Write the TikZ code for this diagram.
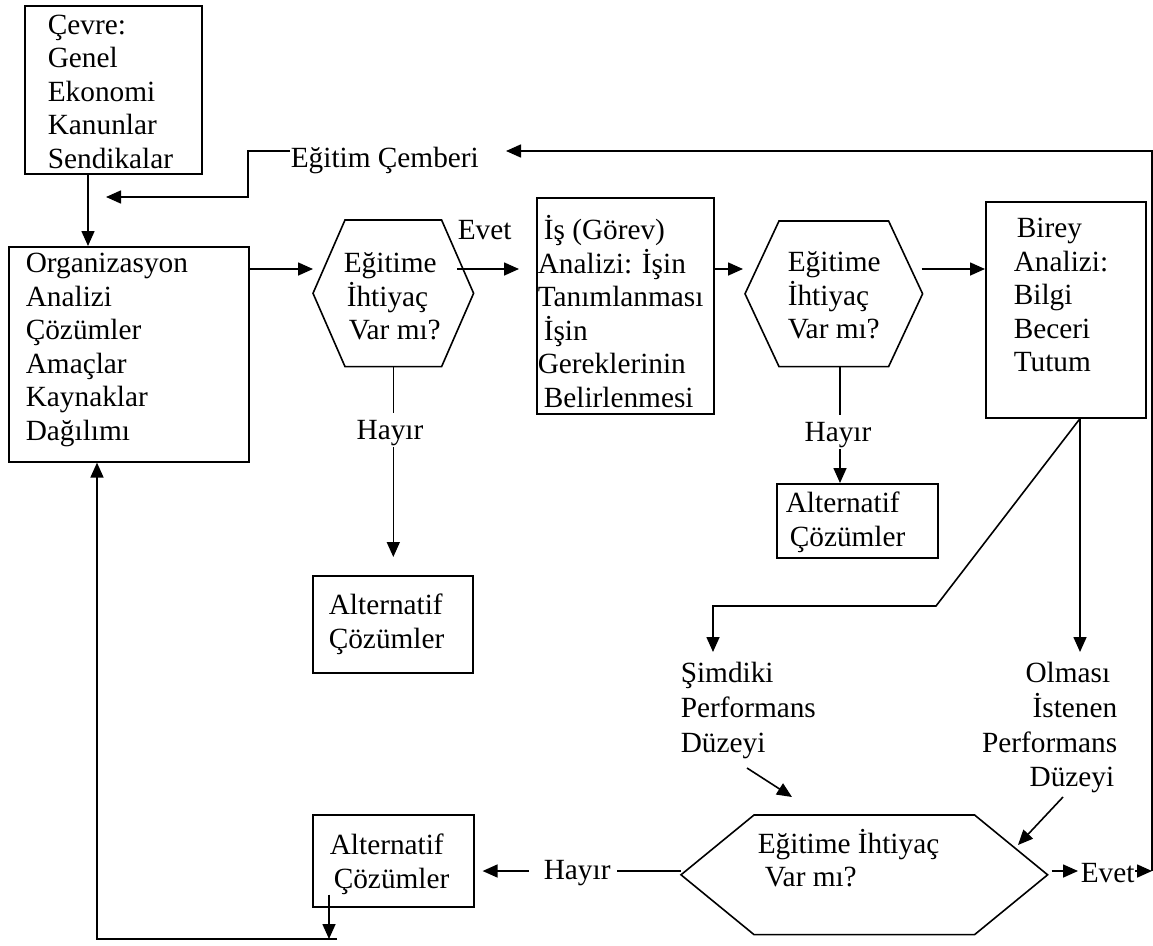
\documentclass[tikz,border=0pt]{standalone}
\usepackage{fontspec}
\setmainfont{Liberation Serif}
\usetikzlibrary{arrows.meta,calc}
% strut fixing the top of every text block 26pt above its first baseline
\newcommand\tstrut{\rule{0pt}{26pt}}
% hexagon drawn through the corners of its bounding node; #2 = horizontal inset of the top/bottom edges
\newcommand\hexoutline[2]{\draw (#1.west) -- ([xshift=#2]#1.north west) -- ([xshift=-#2]#1.north east) -- (#1.east) -- ([xshift=-#2]#1.south east) -- ([xshift=#2]#1.south west) -- cycle;}
\begin{document}
\begin{tikzpicture}[x=1pt, y=-1pt, line width=1.6pt,
  box/.style={draw, rectangle, inner sep=0pt, anchor=north west},
  hexbox/.style={rectangle, inner sep=0pt, anchor=north west},
  txt/.style={inner sep=0pt, anchor=north west, align=left, font={\fontsize{29.3}{33.5}\selectfont}},
  txtwide/.style={txt, font={\fontsize{29.3}{34.7}\selectfont}},
  arr/.style={-{Triangle[length=15pt,width=13pt]}}]
\fill[white] (0,0) rectangle (1153,945);
\useasboundingbox (0,0) rectangle (1153,945);

% ---------- boxes ----------
\node[box, minimum width=177, minimum height=168] (cevre) at (24,5) {};
\node[box, minimum width=240, minimum height=215] (org) at (8,246) {};
\node[box, minimum width=177, minimum height=216] (is) at (536,197) {};
\node[box, minimum width=160, minimum height=216] (birey) at (985,201) {};
\node[box, minimum width=160, minimum height=97] (alt1) at (312,575) {};
\node[box, minimum width=161, minimum height=74] (alt2) at (776,483) {};
\node[box, minimum width=161, minimum height=92] (alt3) at (312,814) {};

% ---------- decision hexagons ----------
\node[hexbox, minimum width=159, minimum height=145] (h1) at (313,220) {};
\node[hexbox, minimum width=176, minimum height=144] (h2) at (745,221) {};
\node[hexbox, minimum width=365, minimum height=118] (h3) at (681,815) {};
\hexoutline{h1}{32}
\hexoutline{h2}{34}
\hexoutline{h3}{73}

% ---------- texts ----------
\node[txt] (tcevre) at (47,7.5) {\tstrut Çevre:\\Genel\\Ekonomi\\Kanunlar\\Sendikalar};
\node[txt] (torg) at (25,246) {\tstrut Organizasyon\\Analizi\\Çözümler\\Amaçlar\\Kaynaklar\\Dağılımı};
\node[txt] (th1) at (343,246) {\tstrut Eğitime\\\hspace*{3pt}İhtiyaç\\\hspace*{5pt}Var mı?};
\node[txt] (th2) at (787,245) {\tstrut Eğitime\\İhtiyaç\\Var mı?};
\node[txt] (tis) at (537,213) {\tstrut\hspace*{6pt}İş (Görev)\\Analizi: İşin\\Tanımlanması\\\hspace*{6pt}İşin\\Gereklerinin\\\hspace*{6pt}Belirlenmesi};
\node[txt] (tbirey) at (1013,211) {\tstrut\hspace*{3pt}Birey\\Analizi:\\Bilgi\\Beceri\\Tutum};
\node[txt] (talt1) at (328,588) {\tstrut Alternatif\\Çözümler};
\node[txt] (talt2) at (785,486) {\tstrut Alternatif\\\hspace*{4pt}Çözümler};
\node[txt] (talt3) at (329,828) {\tstrut Alternatif\\\hspace*{4pt}Çözümler};
\node[txt] (cember) at (290,141) {\tstrut Eğitim Çemberi};
\node[txt] (evet1) at (457,213) {\tstrut Evet};
\node[txt, anchor=north] (hayir1) at (390,413) {\tstrut Hayır};
\node[txt, anchor=north] (hayir2) at (838,415) {\tstrut Hayır};
\node[txtwide] (simdiki) at (680,656) {\tstrut Şimdiki\\Performans\\Düzeyi};
\node[txtwide, anchor=north east, align=right] (olmasi) at (1118,656) {\tstrut Olması\hspace*{7pt}\\İstenen\\Performans\\Düzeyi\hspace*{3pt}};
\node[txt, font={\fontsize{29.3}{33}\selectfont}] (th3) at (757,827) {\tstrut Eğitime İhtiyaç\\\hspace*{7pt}Var mı?};
\node[txt] (hayir3) at (543,853) {\tstrut Hayır};
\node[txt] (evet3) at (1080,856) {\tstrut Evet};

% ---------- routing points ----------
\coordinate (xa) at (88,0);
\coordinate (r1) at (0,269);
\coordinate (ytop) at (0,151);
\coordinate (xo) at (248,0);
\coordinate (yl) at (0,197);
\coordinate (ctip) at (106,197);
\coordinate (ce) at (506,151);
\coordinate (x2) at (840,0);
\coordinate (xb) at (1080,0);
\coordinate (kink) at (936,606);
\coordinate (sl) at (713,606);
\coordinate (s1) at (747,768);
\coordinate (s2) at (792,797);
\coordinate (o1) at (1063,797);
\coordinate (o2) at (1018,845);
\coordinate (r3) at (0,871);
\coordinate (xr) at (1152,0);
\coordinate (x3) at (329,0);
\coordinate (ybot) at (0,939);
\coordinate (xl) at (97,0);

% ---------- connectors ----------
\draw[arr] (cevre.south -| xa) -- (org.north -| xa);
\draw[arr] (cember.west |- ytop) -- (xo |- ytop) -- (xo |- yl) -- (ctip);
\draw[arr] (org.east |- r1) -- (h1.west |- r1);
\draw[arr] (evet1.west |- r1) -- ($(is.west |- r1)+(-17,0)$);
\draw (h1.south) -- (h1.south |- hayir1.north);
\draw[arr] (hayir1.south -| h1.south) -- ($(alt1.north -| h1.south)+(0,-18)$);
\draw[arr] (is.east |- r1) -- ($(h2.west |- r1)+(-2,0)$);
\draw (h2.south -| x2) -- (x2 |- hayir2.north);
\draw[arr] (hayir2.south -| x2) -- (alt2.north -| x2);
\draw[arr] ($(h2.east |- r1)+(-1,0)$) -- (birey.west |- r1);
\draw[arr] (birey.south -| xb) -- ($(olmasi.north -| xb)+(0,-4)$);
\draw[arr] (birey.south -| xb) -- (kink) -- (sl) -- ($(simdiki.north -| sl)+(0,-4)$);
\draw[arr] (s1) -- (s2);
\draw[arr] (o1) -- (o2);
\draw[arr] ($(h3.east |- r3)+(4,0)$) -- ($(evet3.west |- r3)+(-2,0)$);
\draw[arr] (evet3.east |- r3) -- (xr |- r3);
\draw[arr] (xr |- r3) -- (xr |- ytop) -- (ce);
\draw (h3.west |- r3) -- ($(hayir3.east |- r3)+(6,0)$);
\draw[arr] ($(hayir3.west |- r3)+(-14,0)$) -- ($(alt3.east |- r3)+(8,0)$);
\draw[arr] ($(alt3.south -| x3)+(0,-13)$) -- (x3 |- ybot);
\draw[arr] ($(x3 |- ybot)+(8,0)$) -- (xl |- ybot) -- (org.south -| xl);
\end{tikzpicture}
\end{document}
